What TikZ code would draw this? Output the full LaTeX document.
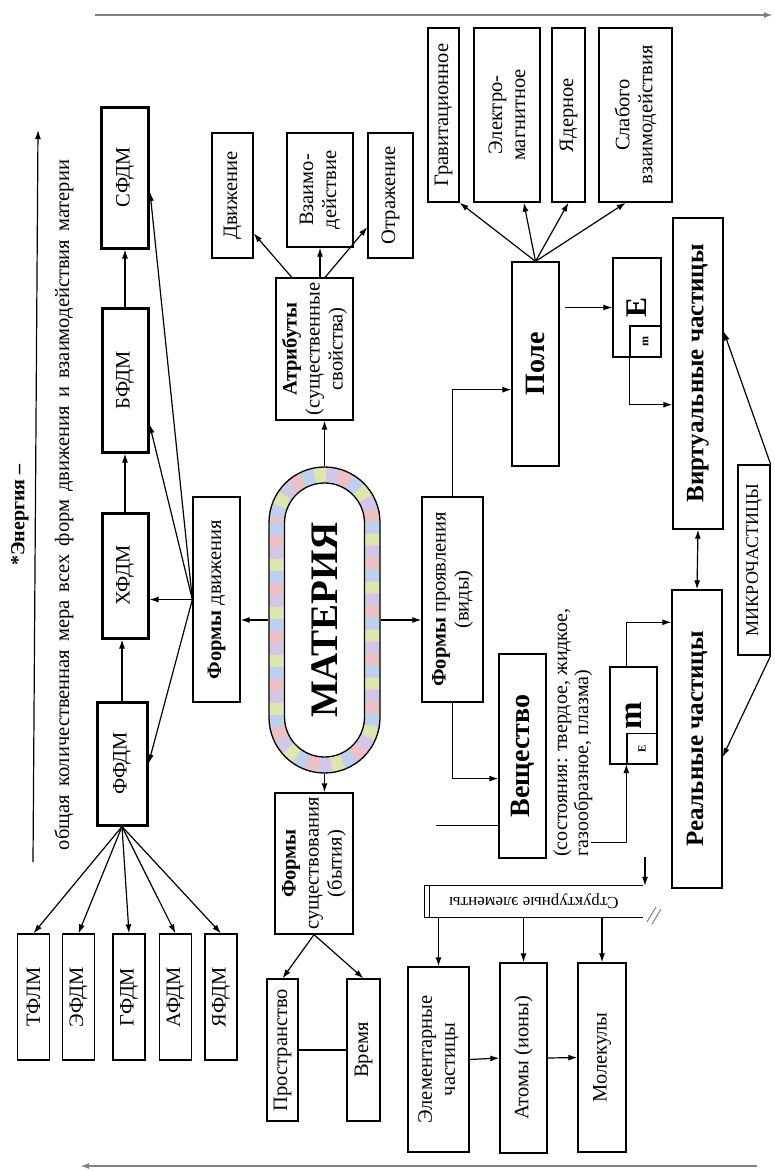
\documentclass[tikz,border=0pt]{standalone}
\usepackage{fontspec}
\setmainfont{Liberation Serif}
\usetikzlibrary{arrows.meta}
\usetikzlibrary{calc}

\definecolor{ringpink}{HTML}{EBC0C6}
\definecolor{ringblue}{HTML}{BFD0EC}
\definecolor{ringgreen}{HTML}{DDE6B0}
\definecolor{ringlilac}{HTML}{D3C6E6}

\tikzset{
  >={Latex[length=9pt,width=6pt]},
  box/.style={draw, line width=1.3pt, rotate=90, inner sep=2pt, align=center, font=\fontsize{20.5}{23}\selectfont},
  thickbox/.style={box, line width=3pt},
  smallbox/.style={box, minimum width=126pt, minimum height=32pt},
  con/.style={->, line width=1.2pt},
  ringband/.style={rotate=90, minimum width=290pt, minimum height=95.5pt, rounded corners=47.75pt, line width=15.5pt, inner sep=0pt},
}

\begin{document}
\begin{tikzpicture}[x=1pt, y=-1pt]
    \fill[white] (0,0) rectangle (775,1171);
    \useasboundingbox (0,0) rectangle (775,1171);

    % frame arrows
    \draw[->, line width=2.5pt, gray] (95,15) -- (773,15);
    \draw[->, line width=2.5pt, gray] (757,1166) -- (80,1166);

    % energy
    \draw[con] (33,862) -- (38,130);
    \node (energy) [rotate=90, font=\bfseries\fontsize{20}{22}\selectfont] at (20,515) {*Энергия –};
    \node (mera) [rotate=90, font=\fontsize{20.5}{22}\selectfont] at (64,505) {\makebox[690pt][s]{общая количественная мера всех форм движения и взаимодействия материи}};

    % forms of motion
    \node (sfdm) [thickbox, minimum width=141pt, minimum height=47pt] at (125,177.5) {СФДМ};
    \node (bfdm) [thickbox, minimum width=144pt, minimum height=46pt] at (125,380) {БФДМ};
    \node (hfdm) [thickbox, minimum width=125pt, minimum height=46pt] at (125,575.5) {ХФДМ};
    \node (ffdm) [thickbox, minimum width=123pt, minimum height=50pt] at (122,763.5) {ФФДМ};

    \node (tfdm) [smallbox] at (33.5,997) {ТФЛМ};
    \node (efdm) [smallbox] at (78.5,997) {ЭФДМ};
    \node (gfdm) [smallbox] at (129,997) {ГФДМ};
    \node (afdm) [smallbox] at (175.5,997) {АФДМ};
    \node (yafdm) [smallbox] at (221,997) {ЯФДМ};

    \node (fd) [box, minimum width=205pt, minimum height=47pt] at (216.5,599.5) {\textbf{Формы} движения};

    % matter
    \coordinate (mc) at (324.5,620);
    \node (ring1) [ringband, draw=ringpink] at (mc) {};
    \node (ring2) [ringband, draw=ringblue, dash pattern=on 12pt off 36pt] at (mc) {};
    \node (ring3) [ringband, draw=ringgreen, dash pattern=on 12pt off 36pt, dash phase=12pt] at (mc) {};
    \node (ring4) [ringband, draw=ringlilac, dash pattern=on 12pt off 36pt, dash phase=24pt] at (mc) {};
    \node (mat) [rotate=90, draw, line width=1.3pt, rounded corners=55.5pt, minimum width=306pt, minimum height=111pt, inner sep=0pt] at (mc) {};
    \node (matin) [rotate=90, draw, fill=white, line width=1.3pt, rounded corners=40pt, minimum width=274pt, minimum height=80pt, inner sep=0pt, font=\bfseries\fontsize{39}{42}\selectfont] at (mc) {МАТЕРИЯ};

    % attributes
    \node (atr) [box, minimum width=142pt, minimum height=77pt] at (314.5,349) {\textbf{Атрибуты}\\(существенные\\свойства)};
    \node (dv) [box, minimum width=125pt, minimum height=41pt] at (232.5,195.5) {Движение};
    \node (vz) [box, minimum width=114pt, minimum height=66pt] at (320,190) {Взаимо-\\действие};
    \node (otr) [box, minimum width=125pt, minimum height=45pt] at (390.5,195.5) {Отражение};

    % forms of existence
    \node (fs) [box, minimum width=141pt, minimum height=78pt] at (314,863.5) {\textbf{Формы}\\существования\\(бытия)};
    \node (pr) [box, minimum width=142pt, minimum height=31pt] at (282.5,1050) {Пространство};
    \node (vr) [box, minimum width=142pt, minimum height=33pt] at (363.5,1050) {Время};

    % forms of manifestation
    \node (fp) [box, minimum width=205pt, minimum height=61pt] at (452.5,599.5) {\textbf{Формы} проявления\\(виды)};
    \node (pole) [box, minimum width=204pt, minimum height=47pt, font=\bfseries\fontsize{28}{30}\selectfont] at (535.5,364) {Поле};
    \node (grav) [box, minimum width=174pt, minimum height=31pt] at (443.5,115) {Гравитационное};
    \node (elm) [box, minimum width=174pt, minimum height=66pt] at (507,115) {Электро-\\магнитное};
    \node (yad) [box, minimum width=174pt, minimum height=33pt] at (568.5,115) {Ядерное};
    \node (slab) [box, minimum width=174pt, minimum height=73pt] at (635.5,115) {Слабого\\взаимодействия};

    \node (eb) [box, minimum width=99pt, minimum height=48pt, font=\bfseries\fontsize{30}{30}\selectfont] at (637,307.5) {E};
    \node (ebm) [box, minimum width=31pt, minimum height=31pt, inner sep=0pt, font=\bfseries\fontsize{12}{12}\selectfont] at (645.5,341.5) {m};

    \node (virt) [box, minimum width=311pt, minimum height=50pt, font=\bfseries\fontsize{25}{27}\selectfont] at (698,373.5) {Виртуальные частицы};
    \node (real) [box, minimum width=298pt, minimum height=50pt, font=\bfseries\fontsize{25}{27}\selectfont] at (697,739) {Реальные частицы};
    \node (micro) [box, minimum width=190pt, minimum height=32pt, font=\fontsize{18}{20}\selectfont] at (754,560) {МИКРОЧАСТИЦЫ};

    \node (ves) [box, minimum width=204pt, minimum height=47pt, font=\bfseries\fontsize{28}{30}\selectfont] at (522.5,756) {Вещество};
    \node (sost) [rotate=90, anchor=north west, align=left, inner sep=0pt, font=\fontsize{20}{21}\selectfont] at (553,857) {(состояния: твердое, жидкое,\\газообразное, плазма)};

    \node (mb) [box, minimum width=97pt, minimum height=47pt, font=\bfseries\fontsize{33}{33}\selectfont] at (633.5,715.5) {m};
    \node (mbe) [box, minimum width=30pt, minimum height=30pt, inner sep=0pt, font=\bfseries\fontsize{11}{11}\selectfont] at (642,748.5) {E};

    % structural elements
    \node (se) [minimum width=218pt, minimum height=31pt, inner sep=0pt, font=\fontsize{17}{17}\selectfont] at (534,901.5) {\rotatebox{180}{Структурные элементы}};
    \draw[line width=1.3pt] (se.north east) -- (se.north west) -- (se.south west) -- (se.south east);
    \draw[line width=1.3pt] ($(se.north west)+(5,0)$) -- ($(se.south west)+(5,0)$);
    \node (el) [box, minimum width=185pt, minimum height=61pt] at (438.5,1059.5) {Элементарные\\частицы};
    \node (atom) [box, minimum width=190pt, minimum height=47pt] at (523.5,1058) {Атомы (ионы)};
    \node (mol) [box, minimum width=189pt, minimum height=48pt] at (602,1057.5) {Молекулы};

    % connectors: motion
    \draw[con] (ffdm.east) -- (ffdm.east |- hfdm.west);
    \draw[con] (hfdm.east) -- (bfdm.west);
    \draw[con] (bfdm.east) -- (sfdm.west);
    \draw[con] (fd.north) -- ($(sfdm.south)!0.2!(sfdm.south west)$);
    \draw[con] (fd.north) -- ($(bfdm.south)!0.6!(bfdm.south west)$);
    \draw[con] (fd.north) -- (fd.north -| hfdm.south);
    \draw[con] (fd.north) -- (ffdm.south);
    \foreach \n in {tfdm, efdm, gfdm, afdm, yafdm}
        \draw[con] (ffdm.west) -- (\n.east);

    % connectors: matter
    \draw[con] (mat.north) -- (mat.north -| fd.south);
    \draw[con] (mat.south) -- (mat.south -| fp.north);
    \draw[con] (mat.east) -- (mat.east |- atr.west);
    \draw[con] (mat.west) -- (mat.west |- fs.east);

    % connectors: attributes
    \draw[con] ($(atr.east)!0.58!(atr.north east)$) -- ($(dv.south)!0.6!(dv.south west)$);
    \draw[con] (vz.west |- atr.east) -- (vz.west);
    \draw[con] ($(atr.east)!0.27!(atr.south east)$) -- ($(otr.north)!0.5!(otr.north west)$);

    % connectors: existence
    \draw[con] (fs.west) -- (pr.east);
    \draw[con] (fs.west) -- (vr.east);
    \draw[line width=1.2pt] (pr.south) -- (vr.north);

    % connectors: manifestation
    \draw[con] (fp.east) |- ($(pole.north)!0.25!(pole.north west)$);
    \draw[con] (fp.west) |- ($(ves.north)!0.22!(ves.north west)$);
    \draw[line width=1.2pt] ($(ves.north)!0.68!(ves.north west)$) -- ++(-62,0);
    \draw[con] (pole.east) -- (grav.south west);
    \draw[con] (pole.east) -- ($(elm.west)!0.5!(elm.south west)$);
    \draw[con] (pole.east) -- (yad.west);
    \draw[con] (pole.east) -- ($(slab.west)!0.26!(slab.north west)$);

    \draw[con] ($(eb.north)+(-47,0)$) -- (eb.north);
    \draw[con] (ebm.north west) |- ($(virt.north)!0.2!(virt.north west)$);
    \draw[con] ($(mbe.north west)+(-35,78)$) -| (mbe.north west);
    \draw[con] (mb.east -| mbe.north) |- ($(real.north)!0.78!(real.north east)$);

    \draw[<->, line width=1.2pt] (virt.west) -- (real.east);
    \draw[con] (micro.south east) -- ($(virt.south)!0.27!(virt.south east)$);
    \draw[con] (micro.south west) -- ($(real.south)!0.12!(real.south west)$);

    % connectors: structure
    \coordinate (sd) at (645,857);
    \draw[con] (sd) -- (sd |- se.north);
    \foreach \n in {el, atom, mol}
        \draw[con] (\n.east |- se.south) -- (\n.east);
    \draw[con] (el.south) -- (atom.north);
    \draw[con] (atom.south) -- (mol.north);
    \draw[gray, line width=1pt] (647,922) -- (656,907) (652,924) -- (661,909);
\end{tikzpicture}
\end{document}
